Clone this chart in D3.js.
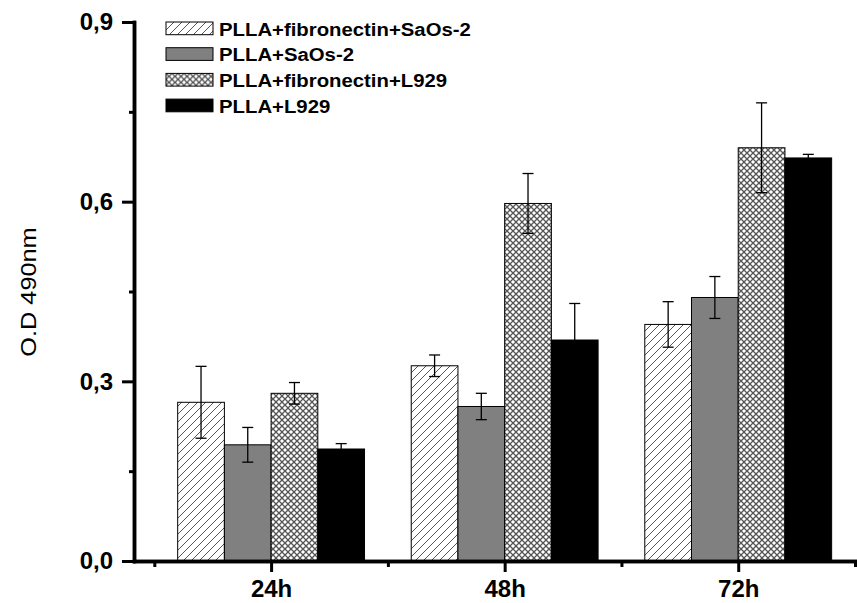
<!DOCTYPE html>
<html>
<head>
<meta charset="utf-8">
<script src="https://cdn.jsdelivr.net/npm/d3@7"></script>
<style>
  body { margin: 0; background: #fff; }
  svg { font-family: "Liberation Sans", Arial, sans-serif; }
</style>
</head>
<body>
<div id="chart"></div>
<script>
let times = ["24h", "48h", "72h"];
let groups = ["PLLA+fibronectin+SaOs-2", "PLLA+SaOs-2", "PLLA+fibronectin+L929", "PLLA+L929"];
// mean O.D per group, one value for each time
let fnSaos = [0.265, 0.326, 0.395];
let saos = [0.194, 0.258, 0.440];
let fnL929 = [0.280, 0.597, 0.690];
let l929 = [0.187, 0.369, 0.673];
// error (one side) per group
let fnSaosErr = [0.060, 0.018, 0.038];
let saosErr = [0.029, 0.022, 0.035];
let fnL929Err = [0.018, 0.050, 0.075];
let l929Err = [0.009, 0.061, 0.006];
let yMajor = [0, 0.3, 0.6, 0.9];
let yMinor = [0.15, 0.45, 0.75];

let series = [
    {name: groups[0], vals: fnSaos, err: fnSaosErr, fill: "url(#hatch)"},
    {name: groups[1], vals: saos, err: saosErr, fill: "#808080"},
    {name: groups[2], vals: fnL929, err: fnL929Err, fill: "url(#cross)"},
    {name: groups[3], vals: l929, err: l929Err, fill: "#000"}
];

let width = 857, height = 603;

let svg = d3.select("#chart").append("svg")
    .attr("width", width)
    .attr("height", height);

let defs = svg.append("defs");
let hatch = defs.append("pattern")
    .attr("id", "hatch")
    .attr("patternUnits", "userSpaceOnUse")
    .attr("width", 8).attr("height", 8);
hatch.append("rect").attr("width", 8).attr("height", 8).attr("fill", "#fff");
hatch.append("path")
    .attr("d", "M-2,2 L2,-2 M0,8 L8,0 M6,10 L10,6")
    .attr("stroke", "#444").attr("stroke-width", 0.9);

let cross = defs.append("pattern")
    .attr("id", "cross")
    .attr("patternUnits", "userSpaceOnUse")
    .attr("width", 6).attr("height", 6);
cross.append("rect").attr("width", 6).attr("height", 6).attr("fill", "#fff");
cross.append("path")
    .attr("d", "M0,0 L6,6 M6,0 L0,6")
    .attr("stroke", "#555").attr("stroke-width", 1.3);

// x is a continuous scale over category index so the axis can start left of the first slot
let x = d3.scaleLinear().domain([0.413, 3.5]).range([134, 855]);
let y = d3.scaleLinear().domain([0, 0.9]).range([561, 22]);
let barW = 0.2;

let bars = svg.append("g");
series.forEach(function(s, si) {
    bars.selectAll(".bar" + si)
        .data(s.vals)
        .enter().append("rect")
        .attr("x", function(d, i) { return x(i + 1 - 0.4 + si * barW); })
        .attr("y", function(d) { return y(d); })
        .attr("width", x(barW) - x(0))
        .attr("height", function(d) { return y(0) - y(d); })
        .attr("fill", s.fill)
        .attr("stroke", "#000")
        .attr("stroke-width", 1);
});

let errs = svg.append("g").attr("stroke", "#000").attr("stroke-width", 1.3);
series.forEach(function(s, si) {
    s.vals.forEach(function(v, i) {
        let cx = x(i + 1 - 0.4 + si * barW + barW / 2);
        errs.append("line")
            .attr("x1", cx).attr("x2", cx)
            .attr("y1", y(v - s.err[i])).attr("y2", y(v + s.err[i]));
        [v - s.err[i], v + s.err[i]].forEach(function(e) {
            errs.append("line")
                .attr("x1", cx - 5.5).attr("x2", cx + 5.5)
                .attr("y1", y(e)).attr("y2", y(e));
        });
    });
});

// axes
let yAxis = svg.append("g")
    .attr("transform", "translate(134,0)")
    .call(d3.axisLeft(y).tickValues(yMajor).tickSize(12).tickSizeOuter(0).tickPadding(9)
        .tickFormat(function(d) { return d.toFixed(1).replace(".", ","); }));
svg.append("g")
    .attr("transform", "translate(134,0)")
    .call(d3.axisLeft(y).tickValues(yMinor).tickSize(5).tickSizeOuter(0).tickFormat(""));

let xAxis = svg.append("g")
    .attr("transform", "translate(0,561)")
    .call(d3.axisBottom(x).tickValues([1, 2, 3]).tickSize(11).tickSizeOuter(0).tickPadding(8)
        .tickFormat(function(d) { return times[d - 1]; }));
svg.append("g")
    .attr("transform", "translate(0,561)")
    .call(d3.axisBottom(x).tickValues([0.5, 1.5, 2.5, 3.5]).tickSize(6).tickSizeOuter(0).tickFormat(""));

svg.selectAll(".domain").attr("stroke", "#000").attr("stroke-width", 3.5).attr("stroke-linecap", "square");
svg.selectAll(".tick line").attr("stroke", "#000").attr("stroke-width", 3);
svg.selectAll(".tick text")
    .attr("fill", "#000")
    .style("font-family", "'Liberation Sans', Arial, sans-serif")
    .style("font-size", "24px")
    .style("font-weight", "bold");

svg.append("text")
    .attr("transform", "translate(36,292) rotate(-90) scale(1.15,1)")
    .attr("text-anchor", "middle")
    .style("font-size", "22px")
    .text("O.D 490nm");

// legend
let legend = svg.append("g").attr("transform", "translate(166,22)");
let rows = legend.selectAll("g")
    .data(series)
    .enter().append("g")
    .attr("transform", function(d, i) { return "translate(0," + (i * 25.7) + ")"; });
rows.append("rect")
    .attr("width", 47).attr("height", 12.7)
    .attr("fill", function(d) { return d.fill; })
    .attr("stroke", "#000").attr("stroke-width", 1);
rows.append("text")
    .attr("transform", "translate(53,13.5) scale(1.13,1)")
    .style("font-size", "18px")
    .style("font-weight", "bold")
    .text(function(d) { return d.name; });
</script>
</body>
</html>
